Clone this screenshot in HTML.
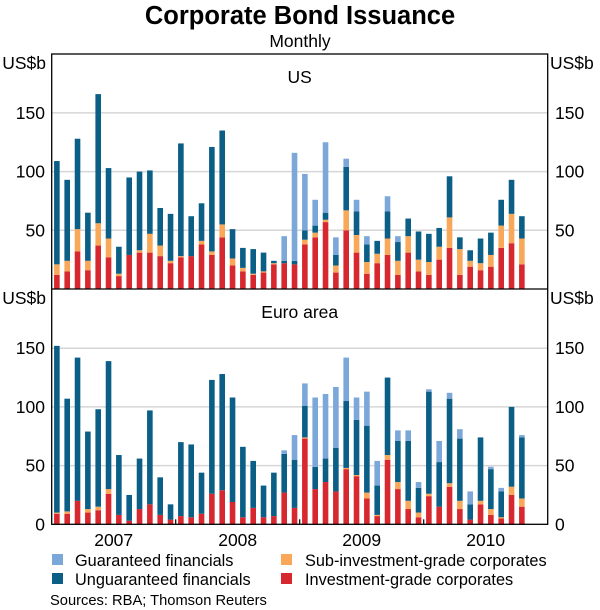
<!DOCTYPE html>
<html><head><meta charset="utf-8">
<style>
html,body{margin:0;padding:0;background:#fff;}
svg{display:block;font-family:"Liberation Sans",Arial,sans-serif;}
</style></head>
<body>
<svg id="chart" width="600" height="610" viewBox="0 0 600 610">
<text x="300" y="24" text-anchor="middle" font-size="25.5" font-weight="bold">Corporate Bond Issuance</text>
<text x="300" y="47" text-anchor="middle" font-size="17.5">Monthly</text>
<g id="plots"></g>
<g>
<rect x="52" y="554" width="11" height="11" fill="#7BA7D9"/>
<text x="75" y="566" font-size="16.3">Guaranteed financials</text>
<rect x="52" y="573" width="11" height="11" fill="#0B5F87"/>
<text x="75" y="585" font-size="16.3">Unguaranteed financials</text>
<rect x="281" y="554" width="11" height="11" fill="#F9A85A"/>
<text x="305" y="566" font-size="16.3">Sub-investment-grade corporates</text>
<rect x="281" y="573" width="11" height="11" fill="#D7282F"/>
<text x="305" y="585" font-size="16.3">Investment-grade corporates</text>
</g>
<text x="50" y="605" font-size="14.7">Sources: RBA; Thomson Reuters</text>
</svg>
<script>
const yearLabels = ["2007","2008","2009","2010"];
const yTicks = [0,50,100,150];
const usInvest = [12,15,32,16,37,27,11,29,31,31,28,22,27,28,38,29,44,20,15,12,14,21,22,21,38,44,57,14,50,31,13,22,29,12,31,15,12,25,35,12,19,16,19,35,39,21];
const usSub = [9,9,19,8,19,16,2,0,2,16,9,2,1,0,3,3,11,6,3,1,1,1,0,0,4,4,2,6,17,15,10,8,14,12,14,10,11,11,26,22,5,6,10,19,25,22];
const usUnguar = [88,69,77,41,110,60,23,66,67,54,32,40,96,34,32,89,80,25,17,21,16,2,2,3,8,6,6,9,37,20,15,11,23,16,15,24,24,16,35,10,9,21,19,22,29,19];
const usGuar = [0,0,0,0,0,0,0,0,0,0,0,0,0,0,0,0,0,0,0,0,0,0,21,92,48,22,60,15,7,10,7,0,13,5,0,0,0,0,0,0,0,0,0,0,0,0];
const euInvest = [9,9,20,10,12,26,8,3,13,17,8,4,7,6,9,26,29,19,6,14,6,7,27,14,73,30,36,28,47,41,22,7,55,30,13,6,24,15,32,13,4,17,8,5,25,15];
const euSub = [1,2,0,3,3,4,0,0,0,0,0,0,0,0,0,0,0,0,0,0,0,0,0,0,1,0,0,0,1,1,5,1,4,6,7,4,2,0,3,7,0,3,5,1,7,7];
const euUnguar = [142,96,122,66,83,109,51,22,43,80,32,13,63,62,35,97,99,89,60,40,27,37,33,41,27,19,20,37,57,47,57,25,66,35,51,21,87,38,72,53,13,54,34,22,68,52];
const euGuar = [0,0,0,0,0,0,0,0,0,0,0,0,0,0,0,0,0,0,0,0,0,0,3,21,19,59,55,52,37,19,29,21,0,9,9,5,2,18,5,8,11,0,2,3,0,2];

const NS="http://www.w3.org/2000/svg";
const L=51.7, R=547.7, slots=48, pitch=(R-L)/slots, bw=5.6;
const colors=["#D7282F","#F9A85A","#0B5F87","#7BA7D9"];
const segNames=["investment-grade","sub-investment-grade","unguaranteed","guaranteed"];
const root=document.getElementById('plots');
function mk(tag,attrs,parent){const e=document.createElementNS(NS,tag);for(const k in attrs)e.setAttribute(k,attrs[k]);(parent||root).appendChild(e);return e;}
const xScale=i=>L+(i+0.5)*pitch;

function panel(top,bottom,title,series,key,showTicks,showZero){
  const ys=v=>bottom - v*(58.7/50);
  const g=mk('g',{});
  
  
  yTicks.forEach(t=>{
    if(t>0){const ln=mk('line',{x1:L,x2:R,y1:ys(t),y2:ys(t),stroke:'#d6d6d6','stroke-width':1.5},g);
      
      }
    if(t===0 && !showZero) return;
    const tl=mk('text',{x:45,y:ys(t)+6,'text-anchor':'end','font-size':17.5},g);tl.textContent=t;
    
    
    const tr=mk('text',{x:555,y:ys(t)+6,'text-anchor':'start','font-size':17.5},g);tr.textContent=t;
    
    
  });
  const u1=mk('text',{x:46,y:top+15,'text-anchor':'end','font-size':17.5},g);u1.textContent='US$b';
  
  
  const u2=mk('text',{x:550,y:top+15,'text-anchor':'start','font-size':17.5},g);u2.textContent='US$b';
  
  
  const pt=mk('text',{x:(L+R)/2,y:top+29,'text-anchor':'middle','font-size':17.5},g);pt.textContent=title;
  
  
  series[0].forEach((_,i)=>{
    let acc=0;
    for(let s=0;s<4;s++){
      const v=series[s][i]; if(!v) continue;
      const r=mk('rect',{x:xScale(i)-bw/2,y:ys(acc+v),width:bw,height:ys(acc)-ys(acc+v),fill:colors[s]},g);
      
      
      acc+=v;
    }
  });
  if(showTicks){[12,24,36].forEach(k=>{const tk=mk('line',{x1:L+k*pitch,x2:L+k*pitch,y1:bottom,y2:bottom-5,stroke:'#000','stroke-width':1.2},g);
    
    });}
}
panel(54,289,'US',[usInvest,usSub,usUnguar,usGuar],'us',false,false);
panel(289,524.3,'Euro area',[euInvest,euSub,euUnguar,euGuar],'euro',true,true);

const fr=mk('rect',{x:L,y:54,width:R-L,height:524.3-54,fill:'none',stroke:'#000','stroke-width':1.3});


const sep=mk('line',{x1:L,x2:R,y1:289,y2:289,stroke:'#000','stroke-width':1.3});


yearLabels.forEach((y,k)=>{
  const t=mk('text',{x:L+(6+12*k)*pitch,y:546,'text-anchor':'middle','font-size':17.5});t.textContent=y;
  
  
});
</script>
</body></html>
